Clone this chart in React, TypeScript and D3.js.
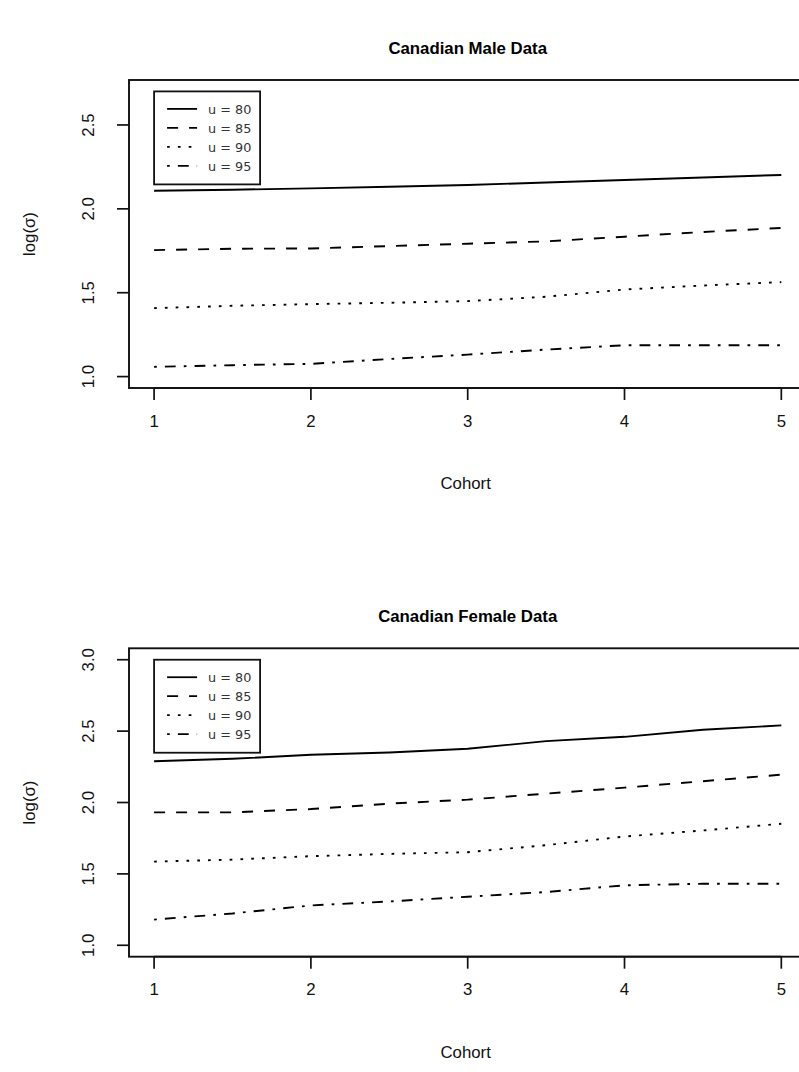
import React from "react";
import * as d3 from "d3";

const cohorts = [1, 1.5, 2, 2.5, 3, 3.5, 4, 4.5, 5];
const seriesLabels = ["u = 80", "u = 85", "u = 90", "u = 95"];

const maleU80 = [2.108, 2.114, 2.122, 2.132, 2.142, 2.157, 2.172, 2.187, 2.202];
const maleU85 = [1.754, 1.762, 1.764, 1.778, 1.792, 1.806, 1.834, 1.862, 1.886];
const maleU90 = [1.408, 1.422, 1.432, 1.44, 1.45, 1.476, 1.519, 1.543, 1.563];
const maleU95 = [1.058, 1.068, 1.076, 1.105, 1.131, 1.161, 1.187, 1.187, 1.187];

const femaleU80 = [2.289, 2.306, 2.334, 2.35, 2.376, 2.43, 2.46, 2.51, 2.54];
const femaleU85 = [1.931, 1.931, 1.954, 1.992, 2.02, 2.062, 2.104, 2.149, 2.195];
const femaleU90 = [1.586, 1.6, 1.624, 1.64, 1.652, 1.701, 1.762, 1.804, 1.851];
const femaleU95 = [1.18, 1.223, 1.279, 1.307, 1.34, 1.373, 1.42, 1.431, 1.431];

const xTicks = [1, 2, 3, 4, 5];
const maleYTicks = [1.0, 1.5, 2.0, 2.5];
const femaleYTicks = [1.0, 1.5, 2.0, 2.5, 3.0];

const dashes = ["none", "11,11", "2.7,8.1", "2.7,8.1,10.8,8.1"];

const FONT = "'Liberation Sans', Arial, Helvetica, sans-serif";

type PanelProps = {
  title: string;
  top: number;
  bottom: number;
  ylim: [number, number];
  yTicks: number[];
  series: number[][];
};

function Panel({ title, top, bottom, ylim, yTicks, series }: PanelProps) {
  const left = 129;
  const right = 806.4;
  const xlim: [number, number] = [1, 5];
  const xr = xlim[1] - xlim[0];
  const yr = ylim[1] - ylim[0];
  const x = d3.scaleLinear().domain([xlim[0] - 0.04 * xr, xlim[1] + 0.04 * xr]).range([left, right]);
  const y = d3.scaleLinear().domain([ylim[0] - 0.04 * yr, ylim[1] + 0.04 * yr]).range([bottom, top]);
  const line = d3
    .line<number>()
    .x((_, i) => x(cohorts[i]))
    .y((d) => y(d));
  const cx = (left + right) / 2;
  const cy = (top + bottom) / 2;
  const tickLen = 12;
  const legX = x(1);
  const legY = y(ylim[1]);
  const legW = 106;
  const legH = 93;

  return (
    <g>
      <text x={cx} y={top - 26} textAnchor="middle" fontFamily={FONT} fontWeight="bold" fontSize={16.8} fill="#000">
        {title}
      </text>
      <rect x={left} y={top} width={right - left} height={bottom - top} fill="none" stroke="#111" strokeWidth={1.9} />
      {xTicks.map((t) => (
        <g key={"x" + t}>
          <line x1={x(t)} x2={x(t)} y1={bottom} y2={bottom + tickLen} stroke="#111" strokeWidth={1.7} />
          <text x={x(t)} y={bottom + 38.5} textAnchor="middle" fontFamily={FONT} fontSize={16.8} fill="#111">
            {String(t)}
          </text>
        </g>
      ))}
      <line x1={x(1)} x2={x(5)} y1={bottom} y2={bottom} stroke="#111" strokeWidth={1.7} />
      {yTicks.map((t) => (
        <g key={"y" + t}>
          <line x1={left} x2={left - tickLen} y1={y(t)} y2={y(t)} stroke="#111" strokeWidth={1.7} />
          <text
            transform={`translate(${left - 35.5},${y(t)}) rotate(-90)`}
            textAnchor="middle"
            fontFamily={FONT}
            fontSize={16.8}
            fill="#111"
          >
            {t.toFixed(1)}
          </text>
        </g>
      ))}
      <text x={cx - 2} y={bottom + 101} textAnchor="middle" fontFamily={FONT} fontSize={16.8} fill="#111">
        Cohort
      </text>
      <text
        transform={`translate(35,${cy}) rotate(-90)`}
        textAnchor="middle"
        fontFamily={FONT}
        fontSize={16.8}
        fill="#111"
      >
        log(σ)
      </text>
      {series.map((s, i) => (
        <path
          key={"s" + i}
          d={line(s) || ""}
          fill="none"
          stroke="#000"
          strokeWidth={1.9}
          strokeDasharray={dashes[i]}
        />
      ))}
      <rect x={legX} y={legY} width={legW} height={legH} fill="#fff" stroke="#111" strokeWidth={1.8} />
      {seriesLabels.map((lab, i) => {
        const ry = legY + 17.5 + i * 19;
        return (
          <g key={"l" + i}>
            <line x1={legX + 13} x2={legX + 43} y1={ry} y2={ry} stroke="#000" strokeWidth={1.8} strokeDasharray={dashes[i]} />
            <text
              x={legX + 54}
              y={ry + 4.8}
              fontFamily="'DejaVu Sans', sans-serif"
              fontSize={12.8}
              fill="#333"
            >
              {lab}
            </text>
          </g>
        );
      })}
    </g>
  );
}

export default function App() {
  return (
    <svg
      width={799}
      height={1072}
      style={{ position: "absolute", left: 0, top: 0, background: "#fff" }}
    >
      <rect x={0} y={0} width={799} height={1072} fill="#fff" />
      <Panel
        title="Canadian Male Data"
        top={80}
        bottom={388}
        ylim={[1, 2.7]}
        yTicks={maleYTicks}
        series={[maleU80, maleU85, maleU90, maleU95]}
      />
      <Panel
        title="Canadian Female Data"
        top={648.3}
        bottom={956.7}
        ylim={[1, 3]}
        yTicks={femaleYTicks}
        series={[femaleU80, femaleU85, femaleU90, femaleU95]}
      />
    </svg>
  );
}
